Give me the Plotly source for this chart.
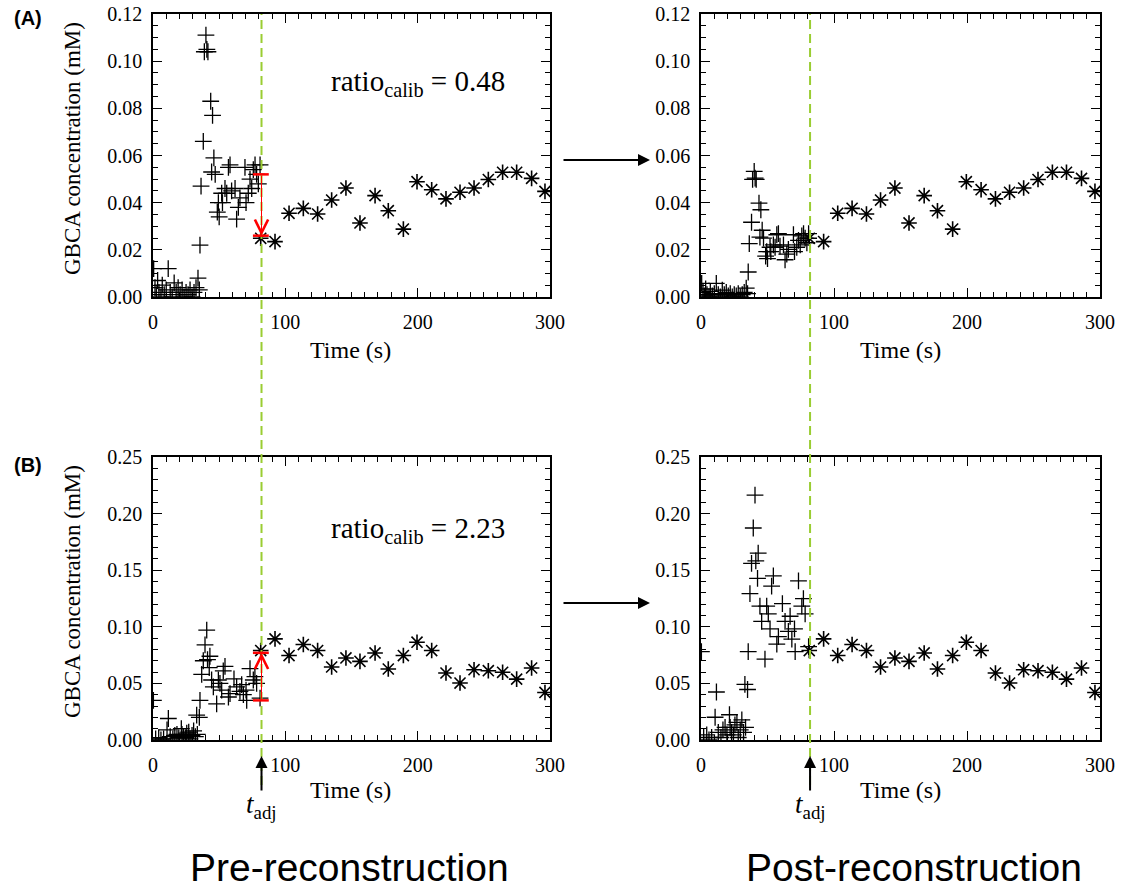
import plotly.graph_objects as go

# ---------------- data ----------------
# time points (s) of the early, densely sampled "+" points, panel A
t_early_A = [0.5, 1.5, 2.5, 3.5, 4.5, 6.0, 7.0, 8.5, 10.0, 11.5, 13.0, 14.5, 16.0, 17.5, 19.0,
             20.5, 22.0, 23.5, 25.0, 26.5, 28.0, 29.5, 31.0, 32.5, 34.0, 35.0, 35.5, 36.3, 38.0,
             38.8, 40.0, 40.7, 41.5, 43.6, 45.0, 44.3, 46.0, 47.0, 48.6, 49.4, 50.0, 51.9, 52.5,
             54.4, 55.7, 57.0, 58.2, 59.4, 62.0, 63.2, 64.5, 65.7, 69.5, 70.3, 72.0, 73.3, 74.6,
             75.8, 77.1, 78.3, 79.6, 80.9]
conc_pre_A = [0.012, 0.004, 0.001, 0.007, 0.002, 0.000, 0.005, 0.001, 0.003, 0.012, 0.002, 0.000,
              0.006, 0.002, 0.004, 0.001, 0.003, 0.000, 0.002, 0.001, 0.003, 0.000, 0.002, 0.004,
              0.008, 0.003, 0.022, 0.047, 0.066, 0.104, 0.111, 0.105, 0.104, 0.083, 0.077, 0.053,
              0.059, 0.052, 0.036, 0.040, 0.034, 0.044, 0.040, 0.046, 0.044, 0.055, 0.056, 0.045,
              0.046, 0.033, 0.038, 0.042, 0.055, 0.040, 0.044, 0.050, 0.046, 0.054, 0.056, 0.052,
              0.048, 0.056]
conc_post_A = [0.0058, 0.0019, 0.0005, 0.0034, 0.0010, 0.0000, 0.0024, 0.0005, 0.0014, 0.0058,
               0.0010, 0.0000, 0.0029, 0.0010, 0.0019, 0.0005, 0.0014, 0.0000, 0.0010, 0.0005,
               0.0014, 0.0000, 0.0010, 0.0019, 0.0038, 0.0014, 0.0106, 0.0226, 0.0317, 0.0499,
               0.0533, 0.0504, 0.0499, 0.0398, 0.0370, 0.0254, 0.0283, 0.0250, 0.0173, 0.0192,
               0.0163, 0.0211, 0.0192, 0.0221, 0.0211, 0.0264, 0.0269, 0.0216, 0.0221, 0.0158,
               0.0182, 0.0202, 0.0264, 0.0192, 0.0211, 0.0240, 0.0221, 0.0259, 0.0269, 0.0250,
               0.0230, 0.0269]

# time points (s) of the early "+" points, panel B
t_early_B = [0.3, 2.0, 4.3, 6.0, 8.0, 10.6, 11.6, 13.0, 15.0, 16.5, 18.1, 19.5, 21.4, 21.9, 23.0,
             24.4, 25.5, 27.0, 28.0, 29.5, 30.7, 32.0, 33.0, 33.5, 35.0, 35.5, 36.8, 38.0, 39.3,
             40.6, 41.2, 43.0, 42.5, 44.3, 45.6, 48.1, 49.4, 50.6, 51.9, 53.1, 54.4, 57.0, 58.2,
             61.2, 63.2, 65.7, 67.0, 68.3, 70.3, 70.8, 73.3, 75.8, 77.0, 78.3, 80.9]
conc_pre_B = [0.035, 0.001, 0.002, 0.000, 0.001, 0.009, 0.019, 0.003, 0.001, 0.004, 0.005, 0.002,
              0.010, 0.005, 0.003, 0.002, 0.006, 0.007, 0.001, 0.004, 0.008, 0.003, 0.022, 0.005,
              0.020, 0.035, 0.058, 0.070, 0.084, 0.097, 0.071, 0.074, 0.064, 0.053, 0.047, 0.032,
              0.053, 0.050, 0.044, 0.061, 0.065, 0.038, 0.041, 0.054, 0.047, 0.043, 0.049, 0.040,
              0.044, 0.035, 0.063, 0.053, 0.056, 0.050, 0.037]
conc_post_B = [0.0780, 0.0022, 0.0045, 0.0000, 0.0022, 0.0201, 0.0424, 0.0067, 0.0022, 0.0089,
               0.0112, 0.0045, 0.0223, 0.0112, 0.0067, 0.0045, 0.0134, 0.0156, 0.0022, 0.0089,
               0.0178, 0.0067, 0.0491, 0.0112, 0.0446, 0.0780, 0.1293, 0.1561, 0.1873, 0.2163,
               0.1583, 0.1650, 0.1427, 0.1182, 0.1048, 0.0714, 0.1182, 0.1115, 0.0981, 0.1360,
               0.1450, 0.0847, 0.0914, 0.1204, 0.1048, 0.0959, 0.1093, 0.0892, 0.0981, 0.0781,
               0.1405, 0.1182, 0.1249, 0.1115, 0.0825]

# late, sparsely sampled "*" points (same time points for A and B)
t_late = [81.4, 92.2, 102.8, 113.6, 124.4, 135.0, 145.8, 156.4, 167.8, 177.8, 189.2, 199.5,
          210.6, 221.4, 232.0, 242.6, 253.4, 264.2, 274.8, 286.1, 296.2]
conc_late_A = [0.0249, 0.0235, 0.0355, 0.0376, 0.0352, 0.0411, 0.0462, 0.0314, 0.0430, 0.0366,
               0.0288, 0.0489, 0.0455, 0.0416, 0.0444, 0.0462, 0.0498, 0.0529, 0.0529, 0.0503,
               0.0448]
conc_late_B = [0.0790, 0.0893, 0.0746, 0.0843, 0.0790, 0.0645, 0.0725, 0.0695, 0.0769, 0.0627,
               0.0746, 0.0864, 0.0790, 0.0592, 0.0503, 0.0621, 0.0612, 0.0598, 0.0538, 0.0636,
               0.0420]

t_adj = 82.0
ratio_calib_A = 0.48
ratio_calib_B = 2.23
levels_A = [0.052, 0.026]   # before -> after calibration at t_adj
levels_B = [0.035, 0.077]

x_ticks = [0, 100, 200, 300]
y_ticks_A = [0.00, 0.02, 0.04, 0.06, 0.08, 0.10, 0.12]
y_ticks_B = [0.00, 0.05, 0.10, 0.15, 0.20, 0.25]

# ---------------- layout helpers ----------------
W, H = 1122, 890
def px(x):
    return x / W
def py(y):
    return 1 - y / H

SERIF = "Liberation Serif"
SANS = "Liberation Sans"

fig = go.Figure()

plus_marker = dict(symbol="cross-thin", size=12, color="black", line=dict(width=1.3, color="black"))
star_marker = dict(symbol="asterisk", size=13, color="black", line=dict(width=1.6, color="black"))

panels = [
    ("x", "y", t_early_A, conc_pre_A, conc_late_A),
    ("x2", "y2", t_early_A, conc_post_A, conc_late_A),
    ("x3", "y3", t_early_B, conc_pre_B, conc_late_B),
    ("x4", "y4", t_early_B, conc_post_B, conc_late_B),
]
for xa, ya, te, ce, cl in panels:
    fig.add_trace(go.Scatter(x=te, y=ce, mode="markers", marker=plus_marker,
                             xaxis=xa, yaxis=ya, showlegend=False))
    fig.add_trace(go.Scatter(x=t_late, y=cl, mode="markers", marker=star_marker,
                             xaxis=xa, yaxis=ya, showlegend=False))

def xaxis(domain, anchor):
    return dict(domain=domain, anchor=anchor, range=[0, 300], tickvals=x_ticks,
                showline=True, linecolor="black", linewidth=1.5, mirror="allticks",
                ticks="inside", ticklen=9, tickwidth=1.3, tickcolor="black",
                showgrid=False, zeroline=False, ticklabelstandoff=6, automargin=False,
                tickfont=dict(family=SERIF, size=20, color="black"),
                minor=dict(ticks="inside", ticklen=5, tickwidth=1.1, tickcolor="black",
                           dtick=10, showgrid=False))

def yaxis(domain, anchor, rng, ticks, mdt):
    return dict(domain=domain, anchor=anchor, range=rng, tickvals=ticks, tickformat=".2f",
                showline=True, linecolor="black", linewidth=1.5, mirror="allticks",
                ticks="inside", ticklen=9, tickwidth=1.3, tickcolor="black",
                showgrid=False, zeroline=False, automargin=False, ticklabelstandoff=5,
                tickfont=dict(family=SERIF, size=20, color="black"),
                minor=dict(ticks="inside", ticklen=5, tickwidth=1.1, tickcolor="black",
                           dtick=mdt, showgrid=False))

xdomL = [px(153), px(550)]
xdomR = [px(701), px(1100)]
ydomA = [py(297), py(14)]
ydomB = [py(740), py(457)]

fig.update_layout(
    template="none",
    width=W, height=H, margin=dict(l=0, r=0, t=0, b=0, pad=0), autosize=False,
    paper_bgcolor="white", plot_bgcolor="white",
    xaxis=xaxis(xdomL, "y"), yaxis=yaxis(ydomA, "x", [0, 0.12], y_ticks_A, 0.005),
    xaxis2=xaxis(xdomR, "y2"), yaxis2=yaxis(ydomA, "x2", [0, 0.12], y_ticks_A, 0.005),
    xaxis3=xaxis(xdomL, "y3"), yaxis3=yaxis(ydomB, "x3", [0, 0.25], y_ticks_B, 0.01),
    xaxis4=xaxis(xdomR, "y4"), yaxis4=yaxis(ydomB, "x4", [0, 0.25], y_ticks_B, 0.01),
)

# green dashed t_adj lines through both rows
for xr in ["x", "x2"]:
    fig.add_shape(type="line", xref=xr, yref="paper", x0=t_adj, x1=t_adj,
                  y0=py(785), y1=py(14), line=dict(color="#9ACD32", width=2, dash="9px,5px"),
                  layer="above")

# red calibration bars and arrows (left column)
for xr, yr, lv in [("x", "y", levels_A), ("x3", "y3", levels_B)]:
    for v in lv:
        fig.add_shape(type="line", xref=xr, yref=yr, x0=t_adj - 6.5, x1=t_adj + 5.5,
                      y0=v, y1=v, line=dict(color="red", width=2.5), layer="above")
    fig.add_annotation(xref=xr, yref=yr, axref=xr, ayref=yr, x=t_adj, y=lv[1],
                       ax=t_adj, ay=lv[0], text="", showarrow=True, arrowhead=5,
                       arrowsize=2.6, arrowwidth=1, arrowcolor="red", standoff=0)

annos = []
# ratio labels
annos.append(dict(x=px(418), y=py(83), text=f"ratio<sub>calib</sub> = {ratio_calib_A:.2f}"))
annos.append(dict(x=px(418), y=py(530), text=f"ratio<sub>calib</sub> = {ratio_calib_B:.2f}"))
for a in annos:
    fig.add_annotation(xref="paper", yref="paper", x=a["x"], y=a["y"], text=a["text"],
                       showarrow=False, xanchor="center", yanchor="middle",
                       font=dict(family=SERIF, size=29, color="black"))

# axis titles
for yc in [149, 592]:
    fig.add_annotation(xref="paper", yref="paper", x=px(72), y=py(yc), textangle=-90,
                       text="GBCA concentration (mM)", showarrow=False,
                       xanchor="center", yanchor="middle",
                       font=dict(family=SERIF, size=23, color="black"))
for xc in [351, 900]:
    for yc in [350, 790]:
        fig.add_annotation(xref="paper", yref="paper", x=px(xc), y=py(yc), text="Time (s)",
                           showarrow=False, xanchor="center", yanchor="middle",
                           font=dict(family=SERIF, size=24, color="black"))

# panel letters
fig.add_annotation(xref="paper", yref="paper", x=px(28), y=py(18), text="<b>(A)</b>",
                   showarrow=False, xanchor="center", yanchor="middle",
                   font=dict(family=SANS, size=20, color="black"))
fig.add_annotation(xref="paper", yref="paper", x=px(28), y=py(465), text="<b>(B)</b>",
                   showarrow=False, xanchor="center", yanchor="middle",
                   font=dict(family=SANS, size=20, color="black"))

# arrows between columns
for yc in [160, 603]:
    fig.add_annotation(xref="paper", yref="paper", x=px(650), y=py(yc), ax=-88, ay=0,
                       text="", showarrow=True, arrowhead=2, arrowsize=1.2, arrowwidth=2,
                       arrowcolor="black", standoff=0)

# t_adj arrows and labels
for xr in ["x3", "x4"]:
    fig.add_annotation(xref=xr, yref="paper", x=t_adj, y=py(756), ax=0, ay=36,
                       text="", showarrow=True, arrowhead=2, arrowsize=1.2, arrowwidth=2,
                       arrowcolor="black", standoff=0)
    fig.add_annotation(xref=xr, yref="paper", x=t_adj, y=py(806), text="<i>t</i><sub>adj</sub>",
                       showarrow=False, xanchor="center", yanchor="middle",
                       font=dict(family=SERIF, size=27, color="black"))

# column titles
fig.add_annotation(xref="paper", yref="paper", x=px(349), y=py(867), text="Pre-reconstruction",
                   showarrow=False, xanchor="center", yanchor="middle",
                   font=dict(family=SANS, size=39, color="black"))
fig.add_annotation(xref="paper", yref="paper", x=px(914), y=py(867), text="Post-reconstruction",
                   showarrow=False, xanchor="center", yanchor="middle",
                   font=dict(family=SANS, size=39, color="black"))

fig.write_html("out.html",
               config={"displayModeBar": False},
               post_script="document.body.style.margin='0px';"
                           "document.body.style.overflow='hidden';")
